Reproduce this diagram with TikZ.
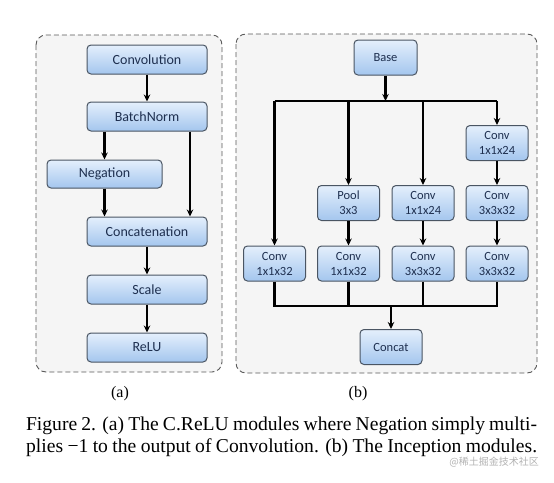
\documentclass[tikz,border=0pt]{standalone}
\usepackage{fontspec}
\setmainfont{Liberation Serif}
\setsansfont{Carlito}
\newfontfamily\cjkfont{Noto Sans CJK SC}
\usetikzlibrary{arrows.meta}

\definecolor{boxtop}{HTML}{E4EFFC}
\definecolor{boxbot}{HTML}{A4C6EE}
\definecolor{boxline}{HTML}{4A5563}
\definecolor{boxtext}{HTML}{1E2F4F}
\definecolor{panelfill}{HTML}{F5F5F5}

\begin{document}
\begin{tikzpicture}[
            x = 1pt, y = -1pt, % pixel grid of the reference
            > = {Stealth[length=7pt,width=6.5pt]}, % arrow head style
            line width = 2.2pt
        ]

        \tikzstyle{block}=[
            draw = boxline,
            line width = 1pt,
            rounded corners = 4pt,
            top color = boxtop,
            bottom color = boxbot,
            text = boxtext,
            font = \sffamily\fontsize{14}{15}\selectfont,
            align = center,
            inner sep = 0pt
        ]
        \tikzstyle{small block}=[
            block,
            font = \sffamily\fontsize{12.5}{15}\selectfont,
            minimum width = 62pt,
            minimum height = 35pt
        ]
        \tikzstyle{panel}=[
            draw = black!65,
            line width = 0.9pt,
            dash pattern = on 5pt off 3pt,
            rounded corners = 10pt,
            fill = panelfill
        ]

        \useasboundingbox (0,0) rectangle (554,482);

        % (a) C.ReLU module
        \draw[panel] (36,35) rectangle (222,372);
        \node (conv) [block, minimum width = 120pt, minimum height = 29pt] at (147,59.5) {Convolution};
        \node (bn) [block, minimum width = 120pt, minimum height = 29pt] at (147,116.5) {BatchNorm};
        \node (neg) [block, minimum width = 115pt, minimum height = 28pt] at (104.5,174) {Negation};
        \node (cat) [block, minimum width = 120pt, minimum height = 29pt] at (147,231.5) {Concatenation};
        \node (scale) [block, minimum width = 120pt, minimum height = 29pt] at (147,289.5) {Scale};
        \node (relu) [block, minimum width = 120pt, minimum height = 29pt] at (147,347.5) {ReLU};

        \draw[->] (conv) -- (bn);
        \draw[->] (bn.south -| neg.north) -- (neg);
        \draw[->] ([xshift=43pt]bn.south) -- ([xshift=43pt]cat.north);
        \draw[->] (neg.south) -- (neg.south |- cat.north);
        \draw[->] (cat) -- (scale);
        \draw[->] (scale) -- (relu);

        % (b) Inception module
        \draw[panel] (236,34) rectangle (537,373);
        \node (base) [small block, minimum width = 63pt] at (385.5,57.5) {Base};
        \node (c24a) [small block] at (497,143) {Conv\\1x1x24};
        \node (pool) [small block] at (348.5,203) {Pool\\3x3};
        \node (c24b) [small block] at (423,203) {Conv\\1x1x24};
        \node (c32a) [small block] at (497,203) {Conv\\3x3x32};
        \node (c11a) [small block] at (274.5,263.5) {Conv\\1x1x32};
        \node (c11b) [small block] at (348.5,263.5) {Conv\\1x1x32};
        \node (c33a) [small block] at (423,263.5) {Conv\\3x3x32};
        \node (c33b) [small block] at (497,263.5) {Conv\\3x3x32};
        \node (concat) [small block] at (391,347) {Concat};

        \coordinate (split) at (385.5,101);
        \coordinate (join) at (391,306);

        \draw[->] (base) -- (split);
        \draw (c11a |- split) -- (c33b |- split);
        \draw[->] (c11a |- split) -- (c11a);
        \draw[->] (pool |- split) -- (pool);
        \draw[->] (c24b |- split) -- (c24b);
        \draw[->] (c24a |- split) -- (c24a);
        \draw[->] (pool) -- (c11b);
        \draw[->] (c24b) -- (c33a);
        \draw[->] (c24a) -- (c32a);
        \draw[->] (c32a) -- (c33b);
        \draw (c11a) -- (c11a |- join) -- (c33b |- join) -- (c33b);
        \draw (c11b) -- (c11b |- join);
        \draw (c33a) -- (c33a |- join);
        \draw[->] (join) -- (concat);

        % sub-figure labels and caption
        \node (la) [font = \fontsize{16}{18}\selectfont] at (120,394) {(a)};
        \node (lb) [font = \fontsize{16}{18}\selectfont] at (358,394) {(b)};
        \node (cap1) [anchor = base west, inner sep = 0pt, font = \fontsize{19.6}{22}\selectfont] at (25,430)
            {\makebox[511pt][s]{Figure 2. (a) The C.ReLU modules where Negation simply multi-}};
        \node (cap2) [anchor = base west, inner sep = 0pt, font = \fontsize{19.6}{22}\selectfont] at (25,452)
            {\makebox[511pt][s]{plies −1 to the output of Convolution. (b) The Inception modules.}};
        \node (mark) [anchor = east, inner sep = 0pt, text = black!30, font = \cjkfont\fontsize{10}{12}\selectfont] at (540,462) {@稀土掘金技术社区};

    \end{tikzpicture}
\end{document}
